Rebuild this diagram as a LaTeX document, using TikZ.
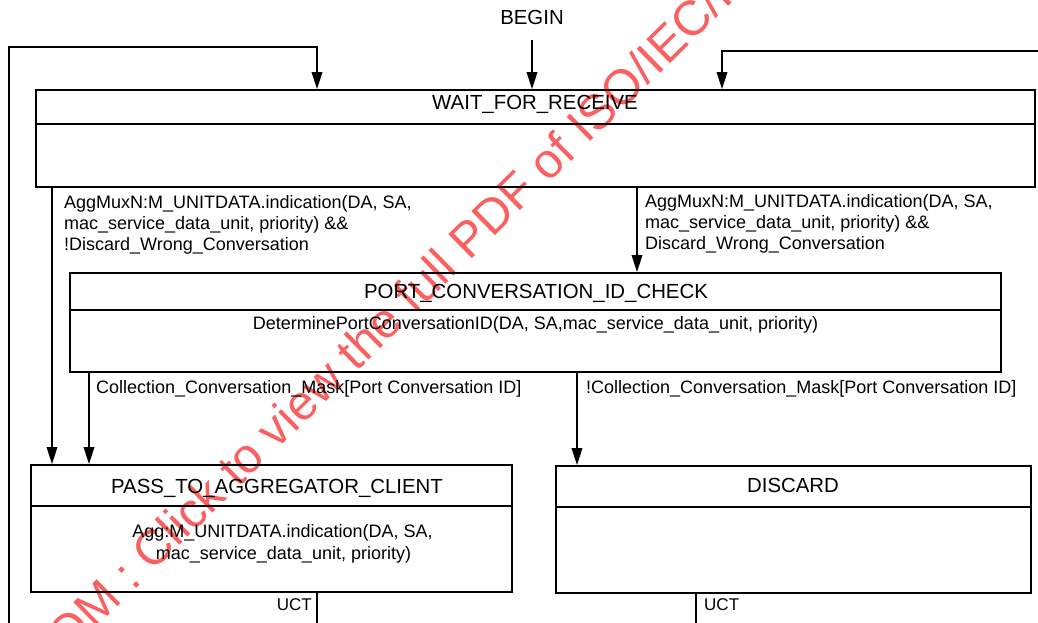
\documentclass[tikz,border=0pt]{standalone}
\usepackage{fontspec}
\setmainfont{Liberation Sans}
\usetikzlibrary{arrows.meta}

\definecolor{wmred}{RGB}{250,96,96}

\tikzset{
  statebox/.style={draw, line width=1.8pt, rectangle, inner sep=0pt},
  divider/.style={line width=1.8pt},
  flow/.style={line width=1.8pt},
  arr/.style={flow, -{Triangle[length=17pt,width=10.5pt]}},
  title/.style={anchor=base, inner sep=0pt, font=\fontsize{20.4}{24}\selectfont},
  lbl/.style={anchor=base west, inner sep=0pt, font=\fontsize{18}{21}\selectfont},
  body/.style={anchor=base, inner sep=0pt, font=\fontsize{18}{21}\selectfont},
  uct/.style={inner sep=0pt, font=\fontsize{17}{20}\selectfont},
  stamp/.style={anchor=base west, inner sep=0pt, text=wmred, rotate=44.5,
    font=\fontsize{49}{58}\selectfont}
}

\begin{document}
\begin{tikzpicture}[x=1pt, y=-1pt]
\useasboundingbox (0,0) rectangle (1038,623);
\clip (0,0) rectangle (1038,623);

% red stamp running diagonally beneath the chart
\node[stamp] (stamp) at (152.5,572.5)
  {\llap{STANDARDSISO.COM :\ }Click to view the full PDF of ISO/IEC/IEEE 8802-1AX};

% state boxes
\node[statebox, minimum width=999pt, minimum height=97pt] (wait) at (535.5,138.5) {};
\node[statebox, minimum width=931pt, minimum height=99pt] (port) at (535.5,322.5) {};
\node[statebox, minimum width=481pt, minimum height=127pt] (pass) at (271.5,528.5) {};
\node[statebox, minimum width=475pt, minimum height=127pt] (disc) at (793.5,529.5) {};

% header dividers
\draw[divider] (wait.west |- 0,124) -- (wait.east |- 0,124);
\draw[divider] (port.west |- 0,310) -- (port.east |- 0,310);
\draw[divider] (pass.west |- 0,506) -- (pass.east |- 0,506);
\draw[divider] (disc.west |- 0,507) -- (disc.east |- 0,507);

% state names and actions
\node[title] (begin) at (532,25) {BEGIN};
\node[title] (waitT) at (535,109.5) {WAIT\_FOR\_RECEIVE};
\node[title] (portT) at (536,298) {PORT\_CONVERSATION\_ID\_CHECK};
\node[body]  (portA) at (535.5,329.5) {DeterminePortConversationID(DA, SA,mac\_service\_data\_unit, priority)};
\node[title] (passT) at (277,493) {PASS\_TO\_AGGREGATOR\_CLIENT};
\node[body]  (passA1) at (282.5,537) {Agg:M\_UNITDATA.indication(DA, SA,};
\node[body]  (passA2) at (283.5,559) {mac\_service\_data\_unit, priority)};
\node[title] (discT) at (793,492) {DISCARD};

% transitions
\draw[arr] (begin.south |- 0,40) -- (532,0 |- wait.north);
\draw[arr] (52,0 |- wait.south) -- (52,0 |- pass.north);
\draw[arr] (637,0 |- wait.south) -- (637,0 |- port.north);
\draw[arr] (89,0 |- port.south) -- (89,0 |- pass.north);
\draw[arr] (577,0 |- port.south) -- (577,0 |- disc.north);

% loops back to WAIT_FOR_RECEIVE
\coordinate (loopL) at (9,623);
\coordinate (loopR) at (1038,51);
\draw[arr] (loopL) -- (9,47) -- (317,47) -- (317,0 |- wait.north);
\draw[arr] (loopR) -- (722,51) -- (722,0 |- wait.north);

% unconditional exits
\coordinate (uctL) at (317,623);
\coordinate (uctR) at (696,623);
\draw[flow] (317,0 |- pass.south) -- (uctL);
\draw[flow] (696,0 |- disc.south) -- (uctR);

% transition conditions
\node[lbl] (c1a) at (64,208) {AggMuxN:M\_UNITDATA.indication(DA, SA,};
\node[lbl] (c1b) at (64,229) {mac\_service\_data\_unit, priority) \&\&};
\node[lbl] (c1c) at (64,250) {!Discard\_Wrong\_Conversation};
\node[lbl] (c2a) at (645,207) {AggMuxN:M\_UNITDATA.indication(DA, SA,};
\node[lbl] (c2b) at (645,228) {mac\_service\_data\_unit, priority) \&\&};
\node[lbl] (c2c) at (645,249) {Discard\_Wrong\_Conversation};
\node[lbl] (c3) at (96,393) {Collection\_Conversation\_Mask[Port Conversation ID]};
\node[lbl] (c4) at (586,393) {!Collection\_Conversation\_Mask[Port Conversation ID]};
\node[uct, anchor=base east] (u1) at (312,610) {UCT};
\node[uct, anchor=base west] (u2) at (704,610) {UCT};
\end{tikzpicture}
\end{document}
